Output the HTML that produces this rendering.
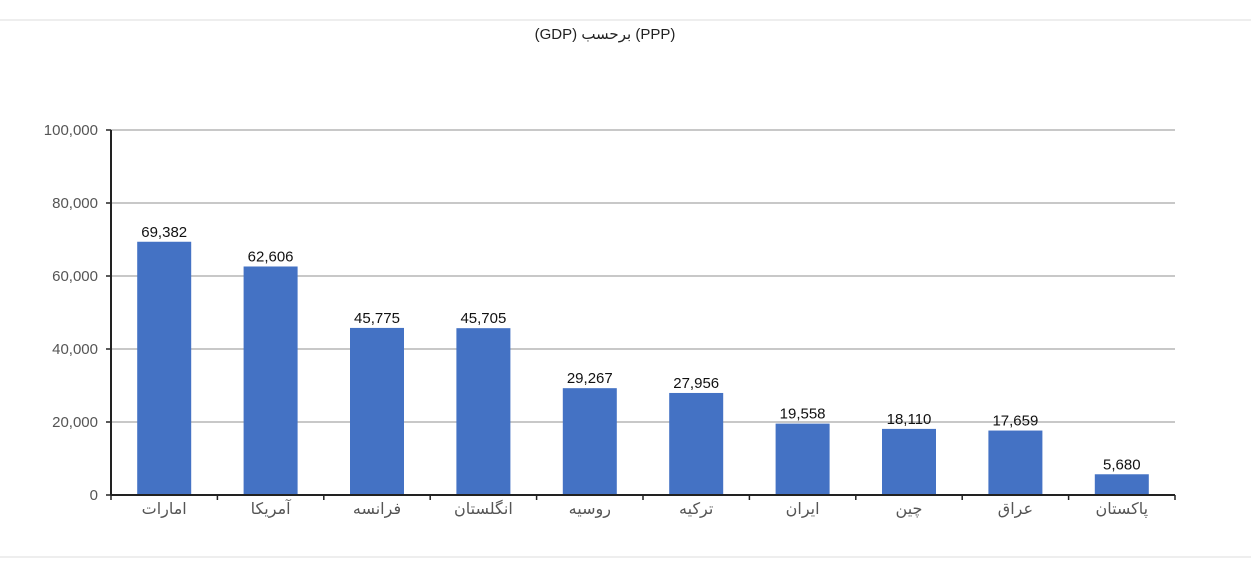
<!DOCTYPE html>
<html><head><meta charset="utf-8">
<style>
html,body{margin:0;padding:0;background:#fff;}
svg{display:block;font-family:"Liberation Sans","DejaVu Sans",sans-serif;}
</style></head>
<body>
<svg id="chart" width="1251" height="588">
  <line x1="0" y1="20" x2="1251" y2="20" stroke="#eeeeee" stroke-width="2"/>
  <line x1="0" y1="557" x2="1251" y2="557" stroke="#eeeeee" stroke-width="2"/>
  <text x="605" y="39" text-anchor="middle" font-size="15" fill="#222" font-family="Liberation Sans, DejaVu Sans, sans-serif">(GDP) برحسب (PPP)</text>
  <g id="grid"></g>
  <g id="bars"></g>
  <g id="axes"></g>
</svg>
<script>
const categories = ["امارات","آمریکا","فرانسه","انگلستان","روسیه","ترکیه","ایران","چین","عراق","پاکستان"];
const values = [69382,62606,45775,45705,29267,27956,19558,18110,17659,5680];
const valueLabels = ["69,382","62,606","45,775","45,705","29,267","27,956","19,558","18,110","17,659","5,680"];
const yTicks = [0,20000,40000,60000,80000,100000];
const yTickLabels = ["0","20,000","40,000","60,000","80,000","100,000"];

const NS="http://www.w3.org/2000/svg";
const x0=111, x1=1175, yTop=130, yBot=495, yMax=100000;
const band=(x1-x0)/categories.length, barW=54;
function yScale(v){return yBot-(v/yMax)*(yBot-yTop);}
function xCenter(i){return x0+band*(i+0.5);}
function mk(tag,attrs,parent){const e=document.createElementNS(NS,tag);for(const k in attrs)e.setAttribute(k,attrs[k]);parent.appendChild(e);return e;}

const grid=document.getElementById('grid'), bars=document.getElementById('bars'), axes=document.getElementById('axes');
yTicks.forEach((t,i)=>{
  const y=yScale(t);
  if(t>0){const g=mk('line',{x1:x0,x2:x1,y1:y,y2:y,stroke:'#c8c8c8','stroke-width':2},grid);
    
    }
  const tk=mk('line',{x1:x0-5,x2:x0,y1:y,y2:y,stroke:'#222','stroke-width':1.5},axes);
  
  
  const lb=mk('text',{x:x0-13,y:y+5,'text-anchor':'end','font-size':15,fill:'#555'},axes);
  lb.textContent=yTickLabels[i];
  
  
});
values.forEach((v,i)=>{
  const cx=xCenter(i), y=yScale(v);
  const r=mk('rect',{x:cx-barW/2,y:y,width:barW,height:yBot-y,fill:'#4472c4'},bars);
  
  
  const t=mk('text',{x:cx,y:y-5,'text-anchor':'middle','font-size':15,fill:'#111'},bars);
  t.textContent=valueLabels[i];
  
  
  const c=mk('text',{x:cx,y:yBot+19,'text-anchor':'middle','font-size':16,fill:'#555','font-family':'DejaVu Sans, Noto Sans CJK SC, sans-serif'},axes);
  c.textContent=categories[i];
  
  
});
for(let i=0;i<=categories.length;i++){
  const x=x0+band*i;
  const tk=mk('line',{x1:x,x2:x,y1:yBot,y2:yBot+5,stroke:'#222','stroke-width':1.5},axes);
  
  
}
const ya=mk('line',{x1:x0,x2:x0,y1:yTop,y2:yBot,stroke:'#222','stroke-width':2},axes);


const xa=mk('line',{x1:x0,x2:x1,y1:yBot,y2:yBot,stroke:'#222','stroke-width':2},axes);


</script>
</body></html>
